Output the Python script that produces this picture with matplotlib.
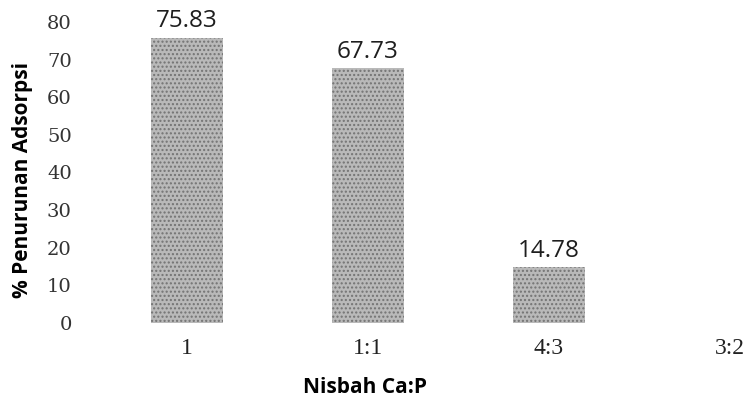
import matplotlib.pyplot as plt
import numpy as np

# nisbah Ca:P dan persen penurunan adsorpsi
nisbah = ["1", "1:1", "4:3", "3:2"]
penurunan = [75.83, 67.73, 14.78, np.nan]
yticks = [0, 10, 20, 30, 40, 50, 60, 70, 80]

fig = plt.figure(figsize=(7.49, 4.05), dpi=100)
ax = fig.add_axes([0.107, 0.2025, 0.893, 0.7432])

x = np.arange(len(nisbah))
ax.bar(x, penurunan, width=0.40, color="#b9b9b9", edgecolor="#737373",
       hatch="....", linewidth=0)

# angka di atas batang
for xi, v in zip(x, penurunan):
    if np.isnan(v):
        continue
    ax.text(xi, v + 4.4, f"{v:.2f}", ha="center", va="center",
            fontsize=17.5, family="Open Sans", color="#1e1e1e", clip_on=False)

ax.set_xlim(-0.59, 3.105)
ax.set_ylim(0, 80)
ax.set_xticks(x)
ax.set_xticklabels(nisbah, family="Liberation Serif", fontsize=17, color="#222222")
ax.set_yticks(yticks)
ax.set_yticklabels([str(t) for t in yticks], family="DejaVu Serif", fontsize=14,
                   color="#333333")
ax.tick_params(axis="y", length=0, pad=6)
ax.tick_params(axis="x", length=0, pad=11)

for s in ax.spines.values():
    s.set_visible(False)

ax.set_xlabel("Nisbah Ca:P", family="Open Sans", fontweight="bold", fontsize=15,
              va="top")
ax.xaxis.set_label_coords(0.426, -0.18)
ax.set_ylabel("% Penurunan Adsorpsi", family="Open Sans", fontweight="bold",
              fontsize=15)
ax.yaxis.set_label_coords(-0.07, 0.475)

plt.savefig("out.png", dpi=100)
